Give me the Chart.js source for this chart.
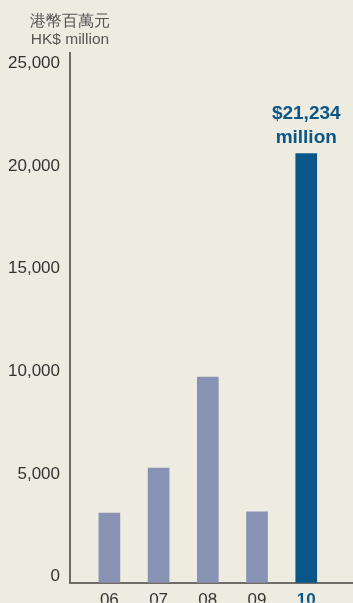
<!DOCTYPE html>
<html>
<head>
<meta charset="utf-8">
<script src="https://cdn.jsdelivr.net/npm/chart.js@4"></script>
<style>
  html, body { margin: 0; padding: 0; background: #eeebe0; }
  #wrap { position: relative; width: 353px; height: 603px; overflow: hidden; }
</style>
</head>
<body>
<div id="wrap"><canvas id="profitChart" width="353" height="603"></canvas></div>
<script>
const YEARS = ['06', '07', '08', '09', '10'];
const PROFIT = [3400, 5590, 10020, 3450, 20900];
const Y_TICKS = [0, 5000, 10000, 15000, 20000, 25000];
const UNIT_LINES = ['港幣百萬元', 'HK$ million'];
const HIGHLIGHT_LINES = ['$21,234', 'million'];

const FONT = "'Liberation Sans', Arial, sans-serif";
const LIGHT = '#8893b3';
const DARK = '#0b5688';
const AXIS = '#6f6b65';

const headerPlugin = {
  id: 'headerText',
  afterDraw(chart) {
    const ctx = chart.ctx;
    const x = chart.chartArea.left;
    ctx.save();
    ctx.fillStyle = '#555';
    ctx.textAlign = 'center';
    ctx.textBaseline = 'alphabetic';
    ctx.font = `15.5px ${FONT}`;
    ctx.fillText(UNIT_LINES[0], x, 26);
    ctx.fillText(UNIT_LINES[1], x, 44);

    // label over the last bar
    const bar = chart.getDatasetMeta(0).data[YEARS.length - 1];
    ctx.fillStyle = DARK;
    ctx.font = `bold 19px ${FONT}`;
    ctx.fillText(HIGHLIGHT_LINES[0], bar.x, bar.y - 35);
    ctx.fillText(HIGHLIGHT_LINES[1], bar.x, bar.y - 11);
    ctx.restore();
  }
};

new Chart(document.getElementById('profitChart'), {
  type: 'bar',
  data: {
    datasets: [{
      data: YEARS.map((y, i) => ({ x: parseInt(y, 10), y: PROFIT[i] })),
      backgroundColor: YEARS.map((y, i) => i === YEARS.length - 1 ? DARK : LIGHT),
      barThickness: 21,
      borderWidth: 0
    }]
  },
  options: {
    responsive: false,
    animation: false,
    layout: { padding: { top: 53, right: 0, left: 0, bottom: 0 } },
    plugins: { legend: { display: false }, tooltip: { enabled: false } },
    scales: {
      x: {
        type: 'linear',
        offset: false,
        min: 5.2,
        max: 10.95,
        afterBuildTicks: s => { s.ticks = YEARS.map(y => ({ value: parseInt(y, 10) })); },
        afterFit: s => { s.height = 20; },
        grid: { display: false, drawTicks: false },
        border: { display: true, color: AXIS, width: 2 },
        ticks: {
          padding: 7,
          maxRotation: 0,
          autoSkip: false,
          callback: v => YEARS.find(y => parseInt(y, 10) === v),
          color: ctx => ctx.index === YEARS.length - 1 ? DARK : '#333',
          font: ctx => ({ family: FONT, size: 17, weight: ctx.index === YEARS.length - 1 ? 'bold' : 'normal' })
        }
      },
      y: {
        min: 0,
        max: 25800,
        afterBuildTicks: s => { s.ticks = Y_TICKS.map(v => ({ value: v })); },
        afterFit: s => { s.width = 70; },
        grid: { display: false, drawTicks: false },
        border: { display: true, color: AXIS, width: 2 },
        ticks: {
          padding: 10,
          labelOffset: -6,
          color: '#333',
          font: { family: FONT, size: 17 },
          callback: v => v.toLocaleString('en-US')
        }
      }
    }
  },
  plugins: [headerPlugin]
});
</script>
</body>
</html>
